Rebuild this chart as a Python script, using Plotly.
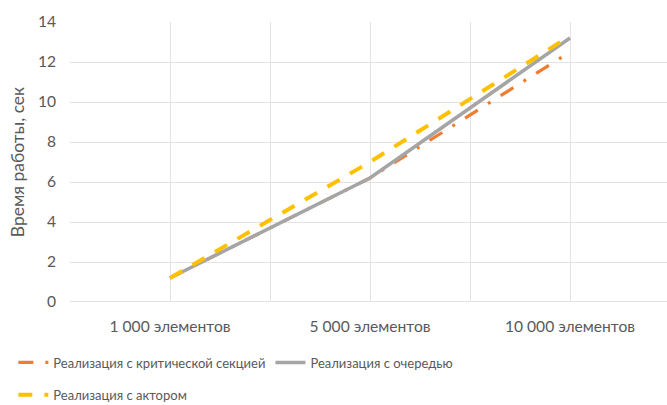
import plotly.graph_objects as go

# Dataset sizes and measured run time (seconds) for each implementation
categories = ["1 000 элементов", "5 000 элементов", "10 000 элементов"]
critical_section = [1.2, 6.2, 12.5]
queue_impl = [1.2, 6.2, 13.2]
actor_impl = [1.2, 7.0, 13.3]

series_names = [
    "Реализация с критической секцией",
    "Реализация с очередью",
    "Реализация с актором",
]

FONT = "Lato, Open Sans, sans-serif"
TEXT = "#595959"
GRID = "#e3e3e3"

fig = go.Figure()

fig.add_trace(go.Scatter(
    x=categories, y=critical_section, name=series_names[0], mode="lines",
    line=dict(color="#ED7D31", width=3.2, dash="15px,12px,3px,12px"),
    legend="legend",
))
fig.add_trace(go.Scatter(
    x=categories, y=queue_impl, name=series_names[1], mode="lines",
    line=dict(color="#A5A5A5", width=3.5),
    legend="legend",
))
fig.add_trace(go.Scatter(
    x=categories, y=actor_impl, name=series_names[2], mode="lines",
    line=dict(color="#FFC000", width=4, dash="14px,12px"),
    legend="legend2",
))
# invisible helper trace carrying the centre gridlines on the overlay axis
fig.add_trace(go.Scatter(
    x=categories, y=[None] * len(categories), xaxis="x2",
    showlegend=False, hoverinfo="skip",
))

xrange = [-0.5, 2.485]

fig.update_layout(
    width=667, height=405,
    margin=dict(l=70, r=0, t=22, b=103),
    paper_bgcolor="white", plot_bgcolor="white",
    font=dict(family=FONT, color=TEXT, size=14),
    xaxis=dict(
        type="category", categoryarray=categories, range=xrange,
        tickson="boundaries", showgrid=True, gridcolor=GRID, gridwidth=1,
        ticks="", showline=False, zeroline=False,
        ticklabelstandoff=13,
        tickfont=dict(size=15.6, color=TEXT),
    ),
    xaxis2=dict(
        type="category", categoryarray=categories, range=xrange,
        overlaying="x", showgrid=True, gridcolor=GRID, gridwidth=1,
        showticklabels=False, ticks="", showline=False, zeroline=False,
    ),
    yaxis=dict(
        range=[0, 14], dtick=2, showgrid=True, gridcolor=GRID, gridwidth=1,
        zeroline=False, showline=False, ticks="",
        ticklabelstandoff=13,
        tickfont=dict(size=15.6, color=TEXT),
        title=dict(text="Время работы, сек", font=dict(size=17.5, color=TEXT),
                   standoff=8),
    ),
    shapes=[dict(type="line", xref="paper", yref="y", x0=0, x1=1, y0=0, y1=0,
                 line=dict(color="#d9d9d9", width=1.5), layer="below")],
    legend=dict(
        orientation="h", xref="container", yref="container",
        x=0.02, y=0.105, xanchor="left", yanchor="middle",
        font=dict(size=13, color=TEXT), itemwidth=30,
        bgcolor="rgba(0,0,0,0)",
    ),
    legend2=dict(
        orientation="h", xref="container", yref="container",
        x=0.02, y=0.025, xanchor="left", yanchor="middle",
        font=dict(size=13, color=TEXT), itemwidth=30,
        bgcolor="rgba(0,0,0,0)",
    ),
)

fig.write_html("out.html")
